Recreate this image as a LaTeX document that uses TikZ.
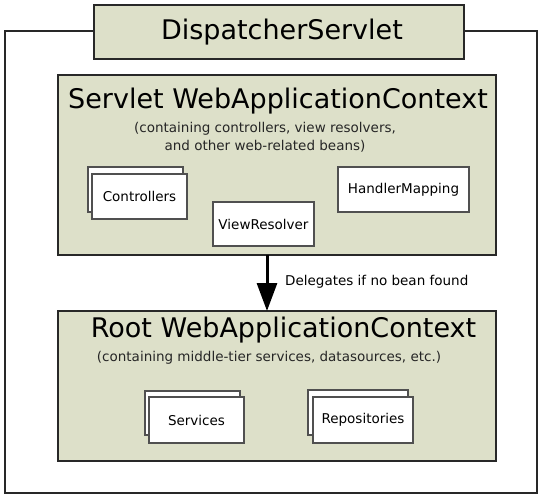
\documentclass[tikz,border=0pt]{standalone}
\usepackage{fontspec}
\setmainfont{DejaVu Sans}
\usetikzlibrary{arrows.meta}
\definecolor{ctxfill}{RGB}{221,224,201}
\definecolor{edge}{RGB}{40,40,40}
\definecolor{beanedge}{RGB}{80,80,80}
\tikzset{
  ctxbox/.style={draw=edge, line width=2pt, fill=ctxfill, inner sep=0pt, outer sep=0pt},
  beanbox/.style={draw=beanedge, line width=1.3pt, fill=white, inner sep=0pt, outer sep=0pt,
    font=\fontsize{13.5}{16}\selectfont},
  bigtitle/.style={inner sep=0pt, font=\fontsize{27}{32}\selectfont},
  subtitle/.style={inner sep=0pt, align=center, font=\fontsize{13.5}{18}\selectfont, text=black!85},
  delegarrow/.style={line width=3pt, -{Triangle[width=20pt,length=28pt]}}
}
\begin{document}
\begin{tikzpicture}[x=1pt,y=-1pt]
\useasboundingbox (0,0) rectangle (544,500);
% outer frame
\coordinate (otl) at (5,31);
\coordinate (obr) at (537,493);
\draw[draw=edge, line width=2pt] (otl) rectangle (obr);
% DispatcherServlet
\node[ctxbox, minimum width=370pt, minimum height=54pt] (ds) at (279,32) {};
\node[bigtitle] (dst) at (282,32) {DispatcherServlet};
% Servlet WebApplicationContext
\node[ctxbox, minimum width=438pt, minimum height=180pt] (swac) at (277,165) {};
\node[bigtitle] (swact) at (278,101) {Servlet WebApplicationContext};
\node[subtitle] (swacs) at (265,137) {(containing controllers, view resolvers,\\and other web-related beans)};
% beans in servlet context
\node[beanbox, minimum width=95pt, minimum height=45pt] (ctrlback) at (135.5,189.5) {};
\node[beanbox, minimum width=95pt, minimum height=45pt] (ctrl) at (139.5,196.5) {Controllers};
\node[beanbox, minimum width=101pt, minimum height=44pt] (vr) at (263.5,224) {ViewResolver};
\node[beanbox, minimum width=131pt, minimum height=45pt] (hm) at (403.5,189.5) {HandlerMapping};
% Root WebApplicationContext
\node[ctxbox, minimum width=438pt, minimum height=150pt] (rwac) at (277,386) {};
\node[bigtitle] (rwact) at (283.5,330) {Root WebApplicationContext};
\node[subtitle] (rwacs) at (269,358) {(containing middle-tier services, datasources, etc.)};
% beans in root context
\node[beanbox, minimum width=95pt, minimum height=44pt] (svcback) at (192.5,413) {};
\node[beanbox, minimum width=95pt, minimum height=46pt] (svc) at (196.5,420) {Services};
\node[beanbox, minimum width=100pt, minimum height=45pt] (repoback) at (358,412.5) {};
\node[beanbox, minimum width=100pt, minimum height=46pt] (repo) at (363,420) {Repositories};
% delegation arrow
\coordinate (ax) at (267,0);
\draw[delegarrow] (swac.south -| ax) -- (rwac.north -| ax);
\node[anchor=west, inner sep=0pt, font=\fontsize{13.5}{16}\selectfont] (dlbl) at (285,282) {Delegates if no bean found};
\end{tikzpicture}
\end{document}
